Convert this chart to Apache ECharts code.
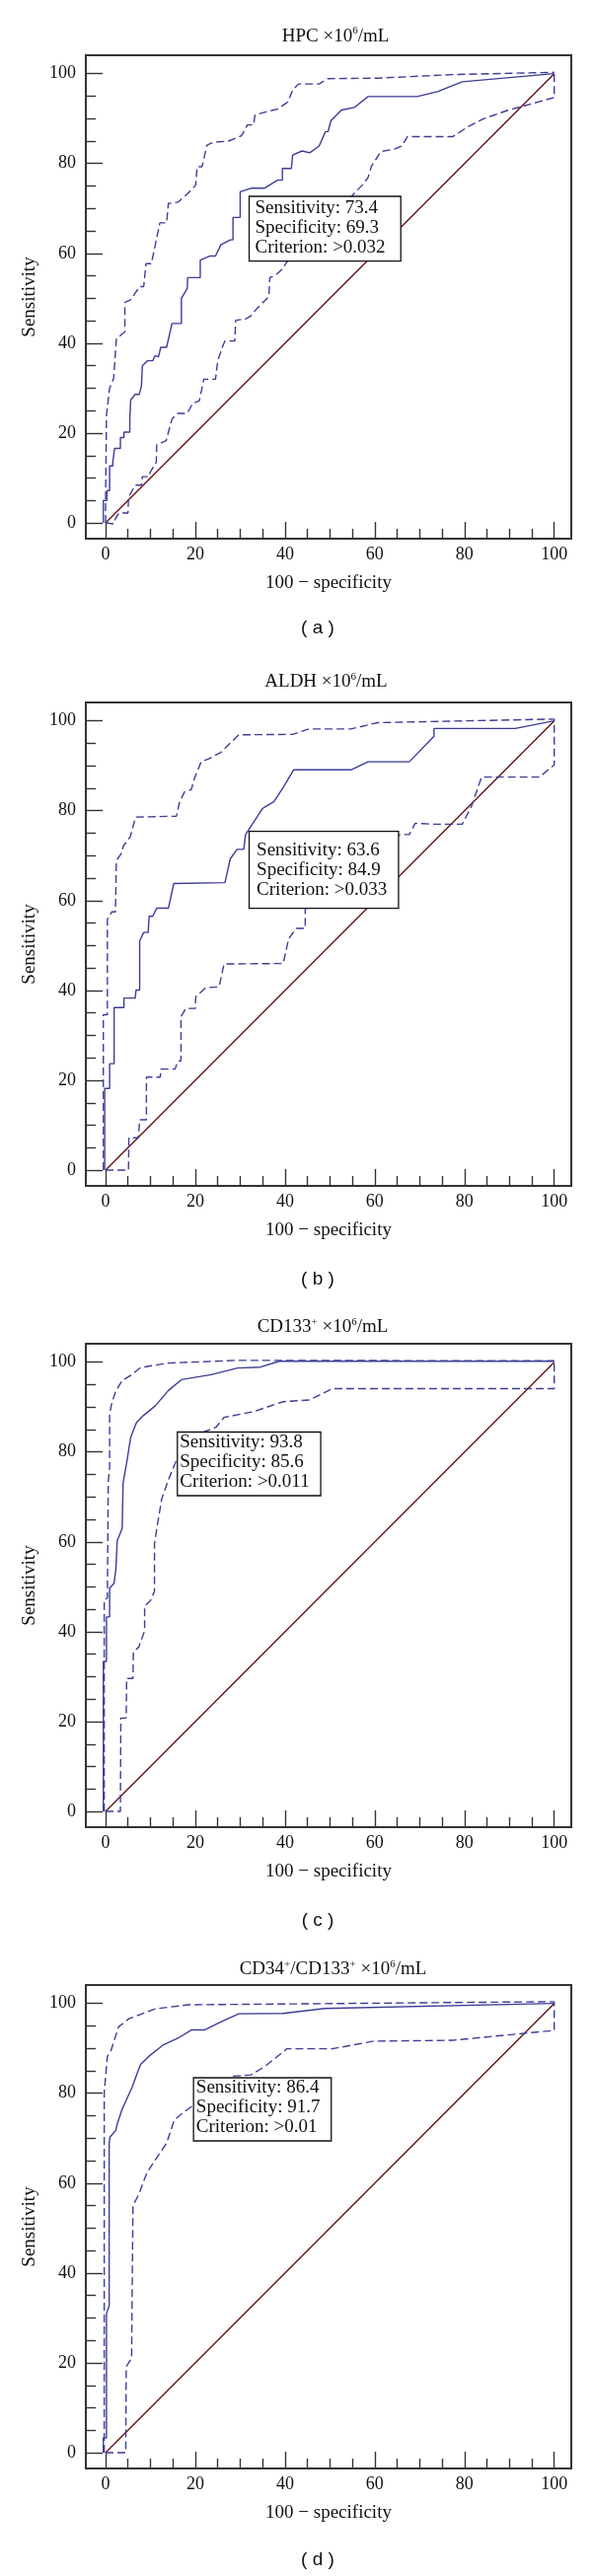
<!DOCTYPE html>
<html><head><meta charset="utf-8">
<script src="https://cdn.jsdelivr.net/npm/echarts@6/dist/echarts.min.js"></script>
<style>html,body{margin:0;padding:0;background:#fff}#c{width:600px;height:2611px}</style>
</head><body><div id="c"></div>
<script>
// ---------- data (x = 100 - specificity, y = sensitivity) ----------
const majorTicks = [0, 20, 40, 60, 80, 100];
const minorTicks = [5, 10, 15, 25, 30, 35, 45, 50, 55, 65, 70, 75, 85, 90, 95];
const chanceLine = [[0, 0], [100, 100]];

const hpcRoc = [[-0.5,0],[-0.5,5],[0.3,5],[0.3,7.2],[0.9,7.2],[0.9,12.7],[1.6,12.7],[1.6,13.5],[2,13.5],[2,16.6],[3.3,16.6],[3.3,19],[4.1,19],[4.1,20.2],[5.4,20.2],[5.4,23],[5.6,27.4],[6.6,28.6],[7.5,28.6],[8,30.5],[8.2,35],[9.3,36.1],[10.5,36.1],[11,37.2],[11.8,37],[12.3,39.1],[13.6,39.1],[14.8,44.4],[16.9,44.4],[16.9,50],[18.2,52.2],[18.3,54.6],[21.1,54.6],[21.1,58.5],[23.2,59.4],[24.5,59.4],[25.7,61.9],[27.8,63],[28.4,63],[28.4,68],[30,68],[30,73.7],[32.4,74.5],[35.4,74.5],[38.3,76.3],[39.4,76.3],[39.4,78.9],[41.4,78.9],[41.7,81.9],[43.8,82.8],[45.5,82.4],[47.6,83.9],[49,87.1],[49.6,87.1],[50.2,89.5],[52.6,91.9],[55.5,92.5],[58.5,94.9],[69.4,94.9],[74,96],[79.5,98.2],[100,100]];
const hpcUpper = [[0,0],[0,5],[0.2,24],[0.9,30],[1.8,32.2],[2.2,32.2],[2.4,40.9],[3.6,42],[4.3,42.5],[4.3,49.1],[5.5,49.6],[7.6,52.6],[8.5,52.6],[9,57.7],[10.2,57.7],[11.4,63.5],[12.1,66.8],[13.6,66.8],[14,71.1],[16.1,71.4],[18.2,73.2],[20.1,75.2],[20.4,79.3],[21.5,79.3],[22.6,84.1],[24,84.7],[27.4,85],[30.3,86.2],[31.6,88.6],[33,88.6],[33.3,90.8],[35.8,91.5],[38.3,92.1],[40.6,93.7],[41.7,96.3],[43,97.7],[47.6,97.7],[49.5,98.9],[60.6,99],[77.4,99.8],[100,100.3]];
const hpcLower = [[0,0],[0,-0.2],[1.8,-0.2],[2.2,1],[3,2.2],[5,2.2],[5.1,5.7],[5.5,5.7],[6.6,8.4],[8,8.4],[8.2,10.3],[9.6,10.3],[10,11.4],[11.3,13.5],[11.4,17.4],[13.5,18.3],[14.8,23.1],[16.1,24.4],[18.2,24.4],[19.4,26.6],[20.9,27.2],[21.9,32],[24.5,32],[25,36.1],[26.1,39.3],[26.6,40.5],[28.8,40.5],[29,45.1],[31.2,45.4],[32.4,46.1],[33.7,47.7],[36.4,50.4],[36.6,54.6],[37.9,55.2],[39.4,56.5],[40.4,58.1],[42.5,60],[46,63],[50,66],[53,69.5],[54.7,72.6],[57.6,75.6],[58.5,76.9],[59.3,79.5],[61.4,82.7],[64.4,83.2],[66,83.9],[67.3,86],[77.4,86],[80.8,88.2],[84.1,89.9],[89.2,91.7],[100,94.7],[100,100.3]];

const aldhRoc = [[-0.2,0],[-0.2,18.2],[0.9,18.2],[0.9,23.7],[1.9,23.7],[1.9,36.2],[4.1,36.2],[4.1,38.3],[6.6,38.3],[6.8,40.1],[7.6,40.1],[7.6,51],[8.5,52.9],[9.5,52.9],[9.7,56.5],[10.5,56.5],[11.4,58.3],[14,58.3],[15.2,63.8],[26.6,64],[27.8,69.3],[29.3,71.4],[30.8,71.4],[31.2,74.7],[35,80.5],[37.5,82],[39.6,85.2],[41.9,89.1],[54.7,89.1],[58.5,90.9],[67.7,90.9],[73.2,96.6],[73.2,98.3],[91.3,98.3],[100,100]];
const aldhUpper = [[-0.5,0],[-0.5,34.6],[0.4,34.6],[0.4,55.8],[1.4,57.5],[2.2,57.5],[2.4,68.9],[3.4,70.3],[4,72.2],[5.5,74.2],[6.7,78.6],[15.8,78.8],[16.5,82],[17.6,84.2],[19.1,84.7],[19.8,87.2],[21.3,90.9],[23.1,91.6],[25.7,93],[29.7,96.9],[41.7,97],[45.3,98.2],[54.7,98.2],[60.6,99.6],[100,100.4]];
const aldhLower = [[0,0],[5.1,0],[5.2,7.2],[7.3,7.2],[7.6,11.2],[9.1,11.2],[9.1,20.7],[12.2,20.7],[12.3,22.5],[15.5,22.5],[16.1,24.3],[16.8,24.3],[16.8,34.2],[17.9,36],[20,36],[20.1,38.6],[22.3,40.6],[25.3,40.8],[26.4,45.9],[39.6,46],[40.8,51.5],[42.5,53.8],[44.5,53.8],[44.5,58.1],[50,62],[56,66],[62,71],[65.6,74.7],[67.7,74.7],[69,77.2],[73.2,77],[79.5,77],[81.6,81.1],[83.8,87.5],[96.7,87.5],[100,90.2],[100,100.4]];

const cd133Roc = [[-0.5,0],[-0.5,33.4],[0.2,33.4],[0.2,43.3],[0.9,43.3],[0.9,49.7],[1.9,50.8],[2.3,54],[2.6,60.3],[3.7,63],[3.9,73.1],[4.8,78.2],[5.6,83.3],[6.9,86.6],[8.4,88.1],[11.1,90.3],[14,93.7],[16.9,96.1],[23.5,97.2],[29.4,98.7],[34.5,98.9],[38.7,100.2],[100,100.2]];
const cd133Upper = [[-0.3,0],[-0.3,47.1],[0.4,47.5],[0.6,73.5],[0.9,76.4],[0.9,88.4],[1.4,91],[2.3,93.6],[3.7,95.9],[5.5,97],[7.8,98.8],[14,99.8],[29.1,100.4],[100,100.3]];
const cd133Lower = [[0,0],[3.3,0],[3.4,20.8],[4.6,20.8],[4.7,29.6],[6.1,29.6],[6.2,35.5],[7.4,36.6],[8.7,40.2],[8.7,45.7],[10,46.9],[10.9,49],[10.9,59.6],[11.4,62.9],[12.5,69.5],[14,73.8],[15.8,78.2],[19,82],[22,84.5],[24.6,85.5],[26.4,87.7],[33,89],[39.6,91.2],[45.5,91.6],[50.5,94.1],[100,94.1],[100,100.3]];

const cd34Roc = [[-0.5,0],[-0.5,3.3],[0.2,3.3],[0.2,31],[0.8,32.7],[0.8,68.9],[1,70.3],[2.3,71.8],[2.6,73.2],[3.7,76.5],[5.9,81.3],[6.7,83.5],[7.8,86.4],[9.6,88.2],[12.9,90.8],[16.2,92.3],[19.1,94.1],[22,94.1],[25.7,95.9],[29.7,97.7],[39.6,97.8],[48.8,98.9],[100,100]];
const cd34Upper = [[-0.3,0],[-0.3,80.2],[0.4,88.2],[1.2,89.5],[2.9,94.8],[5.2,96.6],[11.1,98.8],[18.4,99.7],[100,100.4]];
const cd34Lower = [[0,0],[4.5,0],[4.6,19.2],[5.8,21],[6.1,55],[7.4,57.5],[9.2,62.3],[11.1,65.2],[13.6,68.9],[15.3,74],[16.9,75.4],[19.5,77.3],[23,80],[26,82.5],[28.3,83.8],[32.4,84.1],[35.4,85.9],[40.4,89.9],[50.5,89.9],[59.7,91.6],[77.4,91.8],[100,94],[100,100.4]];

const panelTitles = [
  '{n|HPC ×10}{s|6}{n|/mL}',
  '{n|ALDH ×10}{s|6}{n|/mL}',
  '{n|CD133}{s|+}{n| ×10}{s|6}{n|/mL}',
  '{n|CD34}{s|+}{n|/CD133}{s|+}{n| ×10}{s|6}{n|/mL}'
];
const panelLabels = ['( a )', '( b )', '( c )', '( d )'];
const statsA = ['Sensitivity: 73.4', 'Specificity: 69.3', 'Criterion: >0.032'];
const statsB = ['Sensitivity: 63.6', 'Specificity: 84.9', 'Criterion: >0.033'];
const statsC = ['Sensitivity: 93.8', 'Specificity: 85.6', 'Criterion: >0.011'];
const statsD = ['Sensitivity: 86.4', 'Specificity: 91.7', 'Criterion: >0.01'];
const boxAnchors = [[32.0, 72.7], [32.0, 75.4], [16.0, 84.45], [19.6, 83.46]];

const panels = [
  { roc: hpcRoc, up: hpcUpper, lo: hpcLower, stats: statsA },
  { roc: aldhRoc, up: aldhUpper, lo: aldhLower, stats: statsB },
  { roc: cd133Roc, up: cd133Upper, lo: cd133Lower, stats: statsC },
  { roc: cd34Roc, up: cd34Upper, lo: cd34Lower, stats: statsD }
];

// ---------- layout / style ----------
const FONT = '"Liberation Serif","DejaVu Serif",serif';
const SANS = '"Liberation Sans","DejaVu Sans",sans-serif';
const BLUE = '#3d3d98', RED = '#5e0c0c', INK = '#111111', FRAME = '#333333';
const L = {
  tops: [56, 712, 1362, 2012], left: 87, width: 492, height: 490,
  xMin: -4.4, xMax: 103.8, yMin: -3.5, yMax: 104.1,
  titleX: [340, 330.5, 327, 337.5], titleY: [36.7, 691.3, 1345.5, 1996.5],
  labelX: 322, labelY: [637, 1296.6, 1946.5, 2594.5],
  boxW: [153.7, 151.4, 145.3, 139.6], boxH: [65.7, 78, 64.5, 64],
  boxPadL: [6, 7.6, 2.5, 2.7], boxPadT: [2, 9, 0.5, 0]
};

const chart = echarts.init(document.getElementById('c'), null, { renderer: 'canvas', width: 600, height: 2611 });

const grid = [], xAxis = [], yAxis = [], series = [], title = [];
panels.forEach((p, i) => {
  grid.push({ left: L.left, top: L.tops[i], width: L.width, height: L.height, show: true,
    borderColor: FRAME, borderWidth: 2, backgroundColor: 'transparent', containLabel: false });
  const common = { type: 'value', gridIndex: i, splitLine: { show: false }, axisLine: { show: false, onZero: false } };
  xAxis.push(Object.assign({}, common, {
    min: L.xMin, max: L.xMax, position: 'bottom',
    axisTick: { show: true, inside: true, length: 17, customValues: majorTicks, lineStyle: { color: FRAME, width: 1.4 } },
    axisLabel: { show: true, customValues: majorTicks, margin: 7, fontFamily: FONT, fontSize: 18, color: INK },
    name: '100 − specificity', nameLocation: 'middle', nameGap: 36,
    nameTextStyle: { fontFamily: FONT, fontSize: 19, color: INK }
  }));
  xAxis.push(Object.assign({}, common, {
    min: L.xMin, max: L.xMax, position: 'bottom',
    axisTick: { show: true, inside: true, length: 10, customValues: minorTicks, lineStyle: { color: FRAME, width: 1.4 } },
    axisLabel: { show: false }
  }));
  yAxis.push(Object.assign({}, common, {
    min: L.yMin, max: L.yMax, position: 'left',
    axisTick: { show: true, inside: true, length: 17, customValues: majorTicks, lineStyle: { color: FRAME, width: 1.4 } },
    axisLabel: { show: true, customValues: majorTicks, margin: 10, fontFamily: FONT, fontSize: 18, color: INK },
    name: 'Sensitivity', nameLocation: 'middle', nameGap: 47, nameRotate: 90,
    nameTextStyle: { fontFamily: FONT, fontSize: 19, color: INK }
  }));
  yAxis.push(Object.assign({}, common, {
    min: L.yMin, max: L.yMax, position: 'left',
    axisTick: { show: true, inside: true, length: 10, customValues: minorTicks, lineStyle: { color: FRAME, width: 1.4 } },
    axisLabel: { show: false }
  }));
  const xi = 2 * i, yi = 2 * i;
  const base = { type: 'line', xAxisIndex: xi, yAxisIndex: yi, showSymbol: false, symbol: 'none', animation: false, silent: true };
  series.push(Object.assign({}, base, { data: chanceLine, lineStyle: { color: RED, width: 1.3 }, z: 2 }));
  series.push(Object.assign({}, base, { data: p.up, lineStyle: { color: BLUE, width: 1.4, type: [8, 4] }, z: 3 }));
  series.push(Object.assign({}, base, { data: p.lo, lineStyle: { color: BLUE, width: 1.4, type: [8, 4] }, z: 3 }));
  series.push(Object.assign({}, base, { data: p.roc, lineStyle: { color: BLUE, width: 1.4 }, z: 4 }));
  title.push({
    text: panelTitles[i], left: L.titleX[i], top: L.titleY[i] - 11, textAlign: 'center', padding: 0,
    textStyle: { fontWeight: 'normal', rich: {
      n: { fontFamily: FONT, fontSize: 19, fontWeight: 'normal', color: INK, lineHeight: 22 },
      s: { fontFamily: FONT, fontSize: 11, fontWeight: 'normal', color: INK, lineHeight: 11, verticalAlign: 'top' }
    } }
  });
});

chart.setOption({ animation: false, backgroundColor: '#ffffff', title, grid, xAxis, yAxis, series });

const graphic = [];
panels.forEach((p, i) => {
  const px = chart.convertToPixel({ xAxisIndex: 2 * i, yAxisIndex: 2 * i }, boxAnchors[i]);
  graphic.push({
    type: 'group', x: px[0], y: px[1], z: 100,
    children: [
      { type: 'rect', shape: { x: 0, y: 0, width: L.boxW[i], height: L.boxH[i] },
        style: { fill: '#ffffff', stroke: '#111111', lineWidth: 1.3 }, z: 100 },
      { type: 'text', x: L.boxPadL[i], y: L.boxPadT[i], z: 101,
        style: { text: p.stats.join('\n'), font: '19px ' + FONT, lineHeight: 20, fill: INK,
          align: 'left', verticalAlign: 'top', textAlign: 'left', textVerticalAlign: 'top' } }
    ]
  });
  graphic.push({
    type: 'text', x: L.labelX, y: L.labelY[i], z: 100,
    style: { text: panelLabels[i], font: '19px ' + SANS, fill: INK,
      align: 'center', verticalAlign: 'middle', textAlign: 'center', textVerticalAlign: 'middle' }
  });
});
chart.setOption({ graphic });
</script></body></html>
